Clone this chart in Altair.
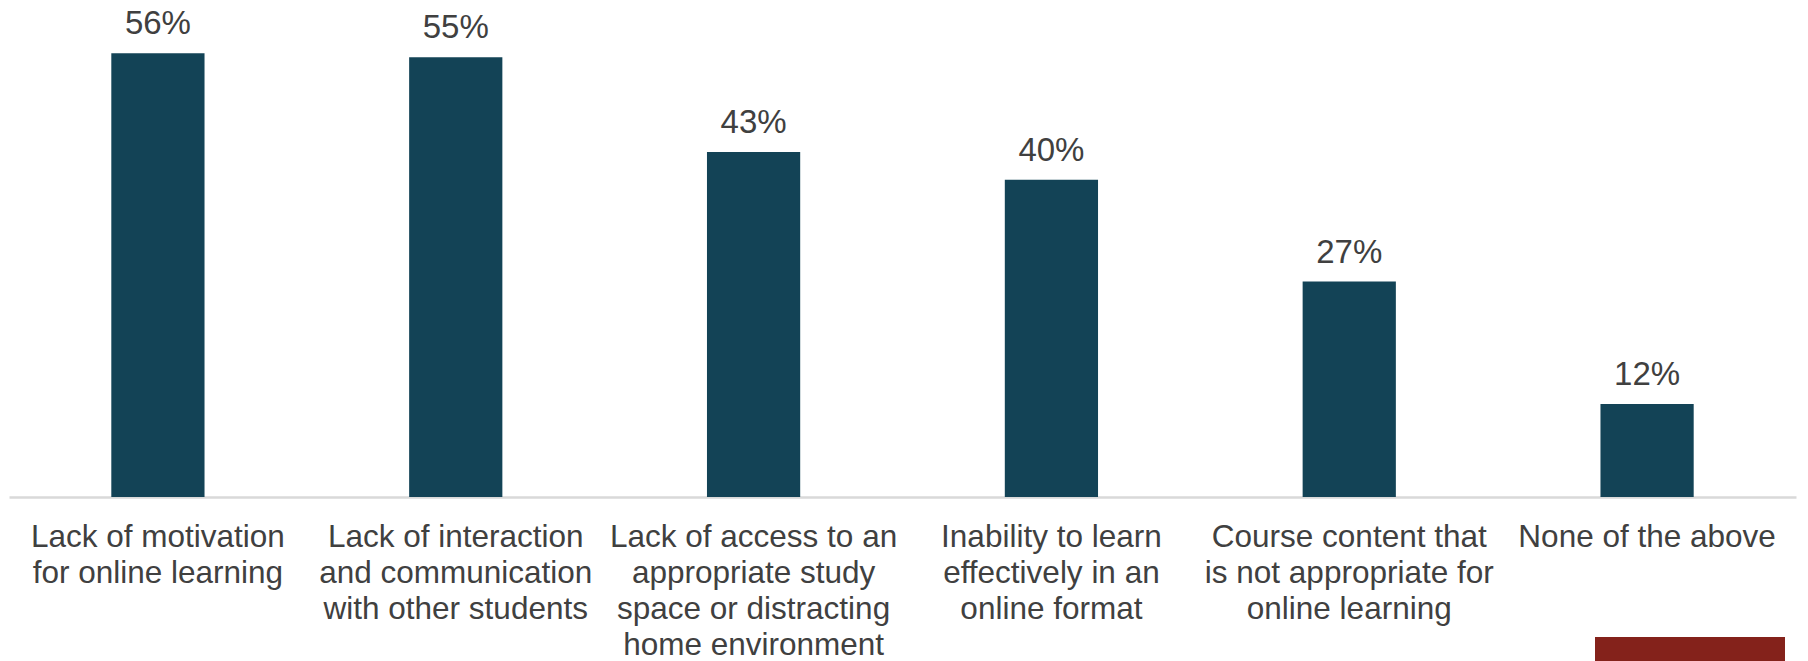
import altair as alt
import pandas as pd

categories = [
    "Lack of motivation|for online learning",
    "Lack of interaction|and communication|with other students",
    "Lack of access to an|appropriate study|space or distracting|home environment",
    "Inability to learn|effectively in an|online format",
    "Course content that|is not appropriate for|online learning",
    "None of the above",
]
# bar heights (labels are the rounded figures)
values = [55.8, 55.3, 43.4, 39.9, 27.1, 11.7]
labels = ["56%", "55%", "43%", "40%", "27%", "12%"]

df = pd.DataFrame({"cat": categories, "val": values, "lab": labels})

FONT = "Liberation Sans"
BAR = "#134356"
TXT = "#404040"

x = alt.X(
    "cat:N",
    sort=categories,
    scale=alt.Scale(paddingInner=0.687, paddingOuter=0.3435),
    axis=alt.Axis(
        title=None,
        labelAngle=0,
        labelExpr="split(datum.label, '|')",
        labelFont=FONT,
        labelFontSize=31.5,
        labelLineHeight=36,
        labelColor=TXT,
        labelPadding=24,
        labelLimit=400,
        labelOverlap=False,
        ticks=False,
        domainColor="#d9d9d9",
        domainWidth=2.5,
        labelBaseline="top",
    ),
)
y = alt.Y(
    "val:Q",
    scale=alt.Scale(domain=[0, 62.5], nice=False, zero=True),
    axis=None,
)

bars = alt.Chart(df).mark_bar(color=BAR).encode(x=x, y=y)
text = alt.Chart(df).mark_text(
    font=FONT, fontSize=33, color=TXT, baseline="alphabetic", dy=-19
).encode(x=x, y=y, text="lab:N")

deco = alt.Chart(pd.DataFrame({"k": [0]})).mark_rect(color="#84221b").encode(
    x=alt.value(1586), x2=alt.value(1776), y=alt.value(637), y2=alt.value(680)
)

chart = (
    alt.layer(bars, text, deco)
    .properties(
        width=1787,
        height=497,
        padding={"left": 9, "top": 0, "right": 12, "bottom": 164},
        autosize=alt.AutoSizeParams(type="none"),
        background="white",
    )
    .configure_view(stroke=None)
)

chart.save("out.html", embed_options={"renderer": "svg", "actions": False})
